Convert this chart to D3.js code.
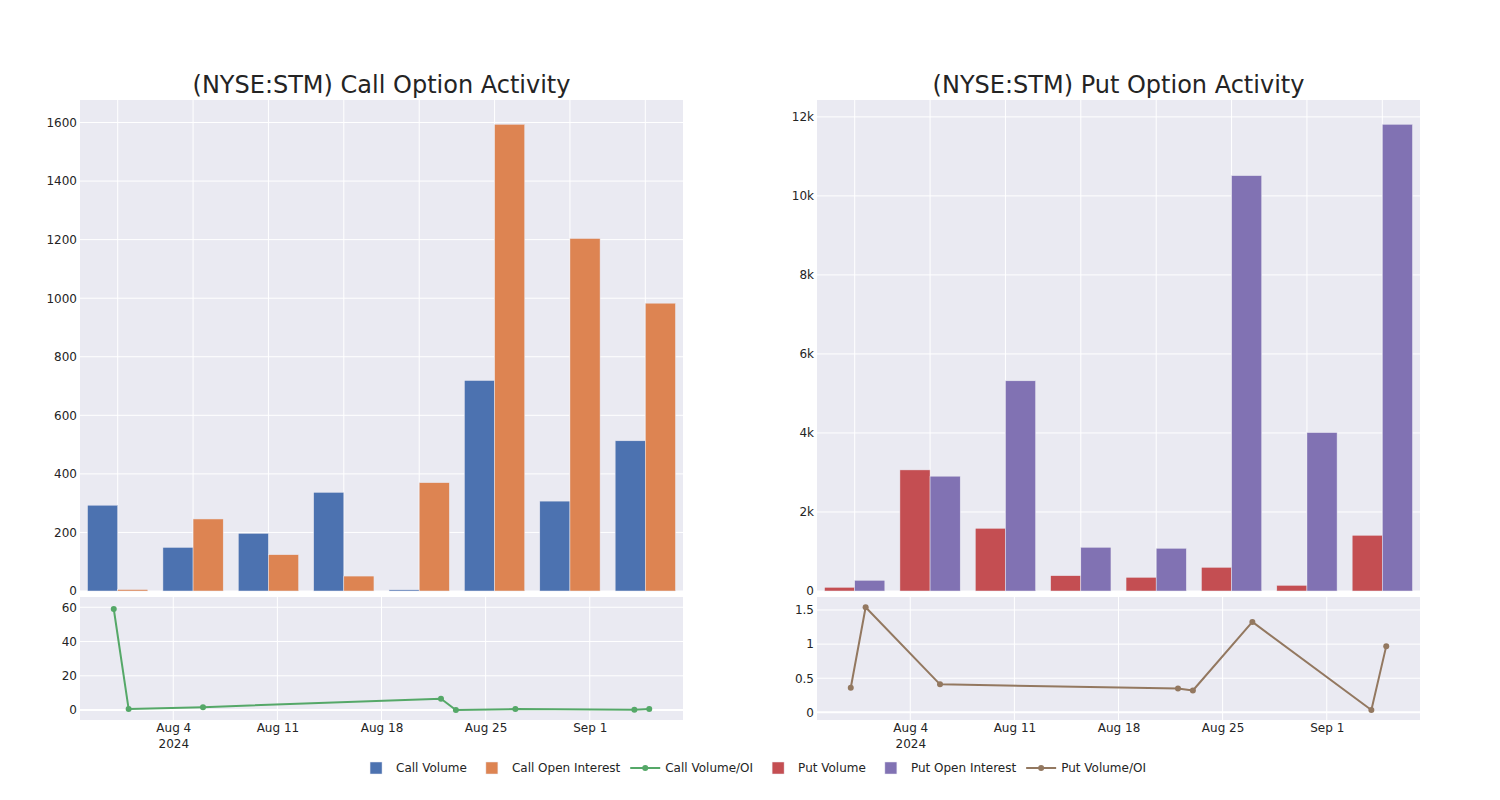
<!DOCTYPE html>
<html>
<head>
<meta charset="utf-8">
<script src="https://cdn.jsdelivr.net/npm/d3@7"></script>
<style>
  html, body { margin: 0; padding: 0; background: #fff; }
  svg { display: block; font-family: "DejaVu Sans", sans-serif; }
</style>
</head>
<body>
<svg id="chart" width="1500" height="800"></svg>
<script>
// ---------------- data ----------------
const dates = ["2024-07-31", "2024-08-01", "2024-08-06", "2024-08-22", "2024-08-23", "2024-08-27", "2024-09-04", "2024-09-05"];
const callVolume = [293, 149, 197, 337, 4, 719, 307, 513];
const callOpenInterest = [5, 246, 124, 51, 370, 1594, 1204, 983];
const callVolumeOI = [59, 0.6, 1.7, 6.6, 0.01, 0.6, 0.2, 0.6];
const putVolume = [94, 3065, 1588, 388, 347, 600, 144, 1411];
const putOpenInterest = [271, 2906, 5320, 1107, 1082, 10513, 4010, 11813];
const putVolumeOI = [0.36, 1.54, 0.41, 0.35, 0.32, 1.325, 0.035, 0.97];
const callTicks = [0, 200, 400, 600, 800, 1000, 1200, 1400, 1600];
const putTicks = [0, 2000, 4000, 6000, 8000, 10000, 12000];
const callRatioTicks = [0, 20, 40, 60];
const putRatioTicks = [0, 0.5, 1, 1.5];
const dateTickLabels = ["Aug 4", "Aug 11", "Aug 18", "Aug 25", "Sep 1"];
const titles = ["(NYSE:STM) Call Option Activity", "(NYSE:STM) Put Option Activity"];
const legendNames = ["Call Volume", "Call Open Interest", "Call Volume/OI", "Put Volume", "Put Open Interest", "Put Volume/OI"];

// ---------------- styling ----------------
const colors = {
  callVol: "rgb(76,114,176)", callOI: "rgb(221,132,82)", callRatio: "rgb(85,168,104)",
  putVol: "rgb(196,78,82)", putOI: "rgb(129,114,179)", putRatio: "rgb(147,120,96)"
};
const bg = "rgb(234,234,242)";
const textColor = "rgb(36,36,36)";
const parse = d3.timeParse("%Y-%m-%d");
const dateObjs = dates.map(parse);
const tickDates = [parse("2024-08-04"), parse("2024-08-11"), parse("2024-08-18"), parse("2024-08-25"), parse("2024-09-01")];

const svg = d3.select("#chart");
const topY0 = 100, topY1 = 591, botY0 = 597, botY1 = 720;
const DAY = 86400000;
const pad = 2.27 * DAY;
const dateDomain = [new Date(+dateObjs[0] - pad), new Date(+dateObjs[dateObjs.length - 1] + pad)];

function panel(cfg) {
  const L = cfg.left, R = cfg.right;
  const g = svg.append("g");
  // title
  g.append("text").attr("x", (L + R) / 2).attr("y", 93).attr("text-anchor", "middle")
    .attr("font-size", 24).attr("fill", textColor).text(cfg.title);

  // ---- top bar chart ----
  g.append("rect").attr("x", L).attr("y", topY0).attr("width", R - L).attr("height", topY1 - topY0).attr("fill", bg);
  const x = d3.scaleBand().domain(dates).range([L, R]).paddingInner(0.2).paddingOuter(0.1);
  const xs = d3.scaleBand().domain([0, 1]).range([0, x.bandwidth()]);
  const maxV = d3.max(cfg.vol.concat(cfg.oi));
  const y = d3.scaleLinear().domain([0, maxV * 1.052]).range([topY1, topY0]);

  // grid
  g.append("g").selectAll("line").data(cfg.ticks).join("line")
    .attr("x1", L).attr("x2", R).attr("y1", d => y(d)).attr("y2", d => y(d))
    .attr("stroke", "#fff").attr("stroke-width", 1);
  g.append("g").selectAll("line").data(dates).join("line")
    .attr("x1", d => x(d) + x.bandwidth() / 2).attr("x2", d => x(d) + x.bandwidth() / 2)
    .attr("y1", topY0).attr("y2", topY1).attr("stroke", "#fff").attr("stroke-width", 1);

  // y axis
  const ya = d3.axisLeft(y).tickValues(cfg.ticks).tickFormat(cfg.fmt).tickSize(0).tickPadding(3);
  const yag = g.append("g").attr("transform", `translate(${L},0)`).call(ya);
  yag.select(".domain").remove();
  yag.selectAll("text").attr("font-size", 12).attr("fill", textColor).attr("font-family", "DejaVu Sans");

  // bars
  const series = [{ v: cfg.vol, c: cfg.cVol }, { v: cfg.oi, c: cfg.cOI }];
  series.forEach((s, si) => {
    g.append("g").selectAll("rect").data(dates).join("rect")
      .attr("x", (d) => x(d) + xs(si))
      .attr("width", xs.bandwidth())
      .attr("y", (d, i) => y(s.v[i]))
      .attr("height", (d, i) => y(0) - y(s.v[i]))
      .attr("fill", s.c).attr("stroke", bg).attr("stroke-width", 0.5);
  });

  // ---- bottom line chart ----
  g.append("rect").attr("x", L).attr("y", botY0).attr("width", R - L).attr("height", botY1 - botY0).attr("fill", bg);
  const xd = d3.scaleTime().domain(dateDomain).range([L, R]);
  const y2 = d3.scaleLinear().domain(cfg.ratioRange).range([botY1, botY0]);
  g.append("g").selectAll("line").data(cfg.ratioTicks).join("line")
    .attr("x1", L).attr("x2", R).attr("y1", d => y2(d)).attr("y2", d => y2(d))
    .attr("stroke", "#fff").attr("stroke-width", d => d === 0 ? 2 : 1);
  g.append("g").selectAll("line").data(tickDates).join("line")
    .attr("x1", d => xd(d)).attr("x2", d => xd(d)).attr("y1", botY0).attr("y2", botY1)
    .attr("stroke", "#fff").attr("stroke-width", 1);

  const ya2 = d3.axisLeft(y2).tickValues(cfg.ratioTicks).tickFormat(d3.format("~g")).tickSize(0).tickPadding(3);
  const ya2g = g.append("g").attr("transform", `translate(${L},0)`).call(ya2);
  ya2g.select(".domain").remove();
  ya2g.selectAll("text").attr("font-size", 12).attr("fill", textColor).attr("font-family", "DejaVu Sans");

  const xa = d3.axisBottom(xd).tickValues(tickDates).tickFormat((d, i) => dateTickLabels[i]).tickSize(0).tickPadding(3);
  const xag = g.append("g").attr("transform", `translate(0,${botY1})`).call(xa);
  xag.select(".domain").remove();
  xag.selectAll("text").attr("font-size", 12).attr("fill", textColor).attr("font-family", "DejaVu Sans");
  xag.selectAll(".tick").filter((d, i) => i === 0).append("text")
    .attr("y", 19).attr("dy", "0.71em").attr("text-anchor", "middle")
    .attr("font-size", 12).attr("fill", textColor).attr("font-family", "DejaVu Sans").text("2024");

  const line = d3.line().x((d, i) => xd(dateObjs[i])).y(d => y2(d));
  g.append("path").datum(cfg.ratio).attr("d", line).attr("fill", "none")
    .attr("stroke", cfg.cRatio).attr("stroke-width", 2).attr("stroke-linejoin", "round");
  g.append("g").selectAll("circle").data(cfg.ratio).join("circle")
    .attr("cx", (d, i) => xd(dateObjs[i])).attr("cy", d => y2(d)).attr("r", 3)
    .attr("fill", cfg.cRatio);
}

panel({
  left: 80, right: 683, title: titles[0],
  vol: callVolume, oi: callOpenInterest, ratio: callVolumeOI,
  cVol: colors.callVol, cOI: colors.callOI, cRatio: colors.callRatio,
  ticks: callTicks, fmt: d3.format("d"),
  ratioTicks: callRatioTicks, ratioRange: [-5.8, 66]
});
panel({
  left: 817, right: 1420, title: titles[1],
  vol: putVolume, oi: putOpenInterest, ratio: putVolumeOI,
  cVol: colors.putVol, cOI: colors.putOI, cRatio: colors.putRatio,
  ticks: putTicks, fmt: d => d === 0 ? "0" : (d / 1000) + "k",
  ratioTicks: putRatioTicks, ratioRange: [-0.112, 1.69]
});

// ---------------- legend ----------------
const legendColors = [colors.callVol, colors.callOI, colors.callRatio, colors.putVol, colors.putOI, colors.putRatio];
const legendType = ["bar", "bar", "line", "bar", "bar", "line"];
const lg = svg.append("g");
const legendY = 768;
const items = lg.selectAll("g").data(legendNames).join("g");
items.append("text").attr("x", 40).attr("y", legendY).attr("dy", "0.35em")
  .attr("font-size", 12).attr("fill", textColor).text(d => d);
let cx = 0;
const gap = 5;
items.each(function (d, i) {
  const it = d3.select(this);
  const w = it.select("text").node().getComputedTextLength();
  it.attr("transform", `translate(${cx},0)`);
  if (legendType[i] === "bar") {
    it.append("rect").attr("x", 14).attr("y", legendY - 6).attr("width", 12).attr("height", 12)
      .attr("fill", legendColors[i]).attr("stroke", bg).attr("stroke-width", 0.5);
  } else {
    it.append("line").attr("x1", 5).attr("x2", 35).attr("y1", legendY).attr("y2", legendY)
      .attr("stroke", legendColors[i]).attr("stroke-width", 2);
    it.append("circle").attr("cx", 20).attr("cy", legendY).attr("r", 3).attr("fill", legendColors[i]);
  }
  cx += 40 + w + gap;
});
const totalW = cx - gap;
lg.attr("transform", `translate(${750 - totalW / 2 + 1},0)`);
</script>
</body>
</html>
